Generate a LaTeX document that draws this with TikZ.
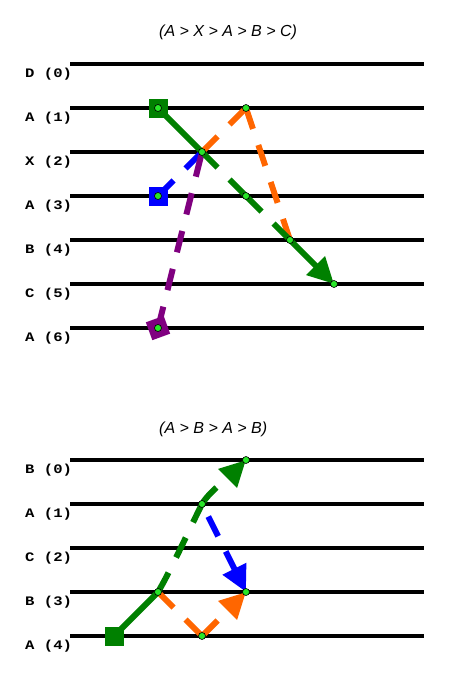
\documentclass[tikz,border=0pt]{standalone}
\usepackage{fontspec}
\usepackage{graphicx}
\usetikzlibrary{arrows.meta}
\newfontfamily\labfont{Liberation Mono}
\newfontfamily\titfont{Liberation Sans}
\definecolor{dgreen}{RGB}{0,128,0}
\definecolor{orng}{RGB}{255,102,0}
\definecolor{blu}{RGB}{0,0,255}
\definecolor{purp}{RGB}{128,0,128}
\definecolor{dotc}{RGB}{40,230,40}
\tikzset{
  staff/.style={line width=3.2pt, draw=black},
  mv/.style={line width=6pt},
  dsh/.style={dash pattern=on 22pt off 17pt},
  tipT/.style={-{Triangle[length=26pt,width=25pt]}},
  dot/.style={circle, fill=dotc, draw=black, line width=0.6pt, minimum size=7pt, inner sep=0pt},
  sq/.style={minimum size=19pt, inner sep=0pt, draw=none},
  lab/.style={anchor=base west, inner sep=0pt, font=\labfont\bfseries\fontsize{13}{13}\selectfont},
  ttl/.style={anchor=base west, inner sep=0pt, font=\titfont\itshape\fontsize{16}{16}\selectfont},
}
\begin{document}
\begin{tikzpicture}[x=1pt,y=-1pt]
\useasboundingbox (0,0) rectangle (449,680);
\fill[white] (0,0) rectangle (449,680);

% ---------- top panel ----------
\node[ttl] (t1) at (159,36.5) {(A > X > A > B > C)};
\foreach \i/\t in {0/D,1/A,2/X,3/A,4/B,5/C,6/A}{
  \coordinate (Ta\i) at (70,64+44*\i);
  \coordinate (Tb\i) at (424,64+44*\i);
  \draw[staff] (Ta\i) -- (Tb\i);
  \node[lab] (Tl\i) at (25,77.5+44*\i) {\scalebox{1.2}[1]{\t\ (\i)}};
}
\coordinate (a1) at (158,108);
\coordinate (o1) at (246,108);
\coordinate (x2) at (202,152);
\coordinate (a3) at (158,196);
\coordinate (g3) at (246,196);
\coordinate (b4) at (290,240);
\coordinate (c5) at (334,284);
\coordinate (a6) at (158,328);

% orange
\draw[mv, orng, dsh] (x2) -- (o1);
\draw[mv, orng, dsh] (o1) -- (b4);
% blue
\node[sq, fill=blu] (sqa3) at (a3) {};
\draw[mv, blu, dsh] (a3) -- (x2);
% purple
\node[sq, fill=purp, rotate=20] (sqa6) at (a6) {};
\draw[mv, purp, dsh] (a6) -- (x2);
% green
\node[sq, fill=dgreen] (sqa1) at (a1) {};
\draw[mv, dgreen] (a1) -- (x2);
\draw[mv, dgreen, dsh] (x2) -- (g3);
\draw[mv, dgreen, dsh] (g3) -- (b4);
\draw[mv, dgreen, tipT] (b4) -- (c5);

\foreach \p in {a1,o1,x2,a3,g3,b4,c5,a6}{
  \node[dot] (d\p) at (\p) {};
}

% ---------- bottom panel ----------
\node[ttl] (t2) at (159,433) {(A > B > A > B)};
\foreach \i/\t in {0/B,1/A,2/C,3/B,4/A}{
  \coordinate (Ba\i) at (70,460+44*\i);
  \coordinate (Bb\i) at (424,460+44*\i);
  \draw[staff] (Ba\i) -- (Bb\i);
  \node[lab] (Bl\i) at (25,473.5+44*\i) {\scalebox{1.2}[1]{\t\ (\i)}};
}
\coordinate (s4) at (114,636);
\coordinate (b3) at (158,592);
\coordinate (m1) at (202,504);
\coordinate (b0) at (246,460);
\coordinate (r3) at (246,592);
\coordinate (a4) at (202,636);

% orange
\draw[mv, orng, dsh] (b3) -- (a4);
\draw[mv, orng, dsh, tipT] (a4) -- (r3);
% blue
\draw[mv, blu, dsh, dash phase=25pt, tipT] (m1) -- (r3);
% green
\node[sq, fill=dgreen] (sqs4) at (s4) {};
\draw[mv, dgreen] (s4) -- (b3);
\draw[mv, dgreen, dsh] (b3) .. controls (170,572) and (190,528) .. (m1);
\draw[mv, dgreen, dsh, tipT] (m1) .. controls (209,492) and (228,478) .. (b0);

\foreach \p in {b3,m1,b0,r3,a4}{
  \node[dot] (e\p) at (\p) {};
}
\end{tikzpicture}
\end{document}
